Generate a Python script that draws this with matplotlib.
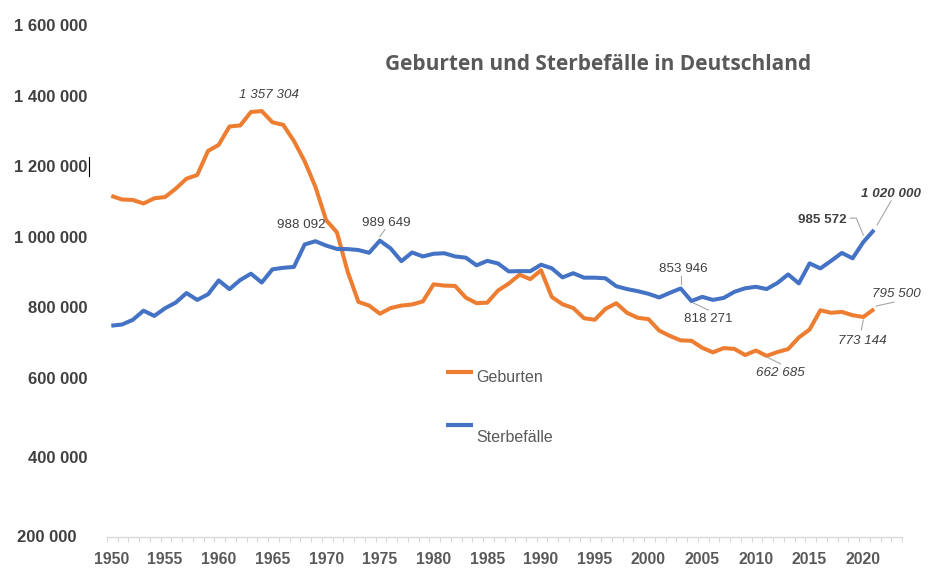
import matplotlib
matplotlib.use("Agg")
from matplotlib import pyplot as plt
from matplotlib.lines import Line2D
from matplotlib.transforms import IdentityTransform, ScaledTranslation
import numpy as np

years = list(range(1950, 2022))

geburten = [
    1116701, 1106380, 1105084, 1095029, 1109743, 1113408, 1137169, 1165555,
    1175870, 1243922, 1261614, 1313505, 1316534, 1354596, 1357304, 1325386,
    1318303, 1272276, 1214968, 1142366, 1047737, 1013396, 901657, 815969,
    805500, 782310, 798334, 805496, 808619, 817217, 865789, 862100,
    861275, 827933, 812292, 813803, 848232, 867969, 892993, 880459,
    905675, 830019, 809114, 798447, 769603, 765221, 796013, 812173,
    785034, 770744, 766999, 734475, 719250, 706721, 705622, 685795,
    672724, 684862, 682514, 665126, 677947, 662685, 673544, 682069,
    714927, 737575, 792141, 784901, 787523, 778090, 773144, 795500,
]

sterbefaelle = [
    748329, 751767, 765025, 791008, 776120, 797802, 814004, 841001,
    821524, 837328, 876721, 852051, 877957, 895911, 870858, 908216,
    912627, 915130, 978846, 988092, 975664, 966159, 965689, 963081,
    955235, 989649, 967567, 931580, 956107, 944869, 952371, 953945,
    944874, 941377, 919707, 932390, 924917, 902366, 903203, 902998,
    921445, 911245, 885443, 897270, 884661, 884588, 882843, 860389,
    852382, 846330, 838797, 828541, 841686, 853946, 818271, 830227,
    821627, 827155, 844439, 854544, 858768, 852328, 869582, 893825,
    868356, 925200, 910899, 932272, 954874, 939520, 985572, 1020000,
]

year_labels = list(range(1950, 2021, 5))
y_labels = ["1 600 000", "1 400 000", "1 200 000", "1 000 000",
            "800 000", "600 000", "400 000", "200 000"]
# where the labels sit in the original (the bottom two are not evenly spaced)
y_label_pos = [1600000, 1400000, 1200000, 1000000, 800000, 600000, 376000, 152000]

ORANGE = "#ED7D31"
BLUE = "#4472C4"
LABEL_FONT = "Liberation Sans"

fig = plt.figure(figsize=(9.36, 5.81), dpi=100)
ax = fig.add_axes([107 / 936, 44 / 581, 795 / 936, 517 / 581])

ax.plot(years, geburten, color=ORANGE, lw=2.9, solid_joinstyle="round",
        solid_capstyle="butt")
ax.plot(years, sterbefaelle, color=BLUE, lw=2.9, solid_joinstyle="round",
        solid_capstyle="butt")

ax.set_xlim(1949.6, 2023.6)
ax.set_ylim(148936, 1615600)

for s in ["top", "right", "left"]:
    ax.spines[s].set_visible(False)
ax.spines["bottom"].set_color("#D9D9D9")
ax.spines["bottom"].set_linewidth(1.0)

ax.set_xticks(year_labels)
ax.set_xticklabels([str(y) for y in year_labels], fontsize=11.3,
                   fontweight="bold", color="#595959", family="Liberation Sans")
ax.set_xticks([y - 0.4 for y in range(1950, 2025)], minor=True)
ax.tick_params(axis="x", which="major", length=0, pad=11)
ax.tick_params(axis="x", which="minor", length=3.5, width=0.8, color="#D9D9D9",
               direction="out")

ax.set_yticks(y_label_pos)
ax.set_yticklabels(y_labels, fontsize=12, fontweight="bold", color="#404040",
                   family="Liberation Sans")
ax.tick_params(axis="y", length=0, pad=14)
last = ax.get_yticklabels()[-1]
last.set_transform(last.get_transform()
                   + ScaledTranslation(-11 / 100, 0, fig.dpi_scale_trans))

# title
fig.text(598 / 936, 1 - 64 / 581, "Geburten und Sterbefälle in Deutschland",
         ha="center", va="center", fontsize=15, fontweight="bold",
         color="#595959", family=["Open Sans", "DejaVu Sans"])

# legend drawn by hand, like the original layout
def legend_entry(y_line, y_text, color, text):
    fig.add_artist(Line2D([446 / 936, 473 / 936], [1 - y_line / 581] * 2,
                          color=color, lw=3, solid_capstyle="butt",
                          transform=fig.transFigure))
    fig.text(476 / 936, 1 - y_text / 581, text, ha="left", va="center",
             fontsize=11.5, color="#595959", family="Liberation Sans")

legend_entry(372, 377, ORANGE, "Geburten")
legend_entry(425, 437, BLUE, "Sterbefälle")

# stray text cursor next to the 1 200 000 label
fig.add_artist(Line2D([88.5 / 936] * 2, [1 - 157 / 581, 1 - 176 / 581],
                      color="black", lw=0.8, transform=fig.transFigure))

# data labels: series, year, text, style, weight, label offset px, leader px
series = {"g": geburten, "s": sterbefaelle}
annotations = [
    ("g", 1964, "1 357 304", "italic", "normal", (7, 16), None),
    ("s", 1969, "988 092", "normal", "normal", (-14, 16), None),
    ("s", 1975, "989 649", "normal", "normal", (6, 18), [(5, 11), (0, 4)]),
    ("s", 2003, "853 946", "normal", "normal", (3, 19), [(0, 12), (0, 4)]),
    ("s", 2004, "818 271", "normal", "normal", (17, -18), [(2, -2), (17, -9)]),
    ("g", 2011, "662 685", "italic", "normal", (14, -17), [(0, -1), (14, -8)]),
    ("g", 2020, "773 144", "italic", "normal", (-1, -24), [(0, -3), (-2, -13)]),
    ("g", 2021, "795 500", "italic", "normal", (22, 15), [(2, 3), (20, 7)]),
    ("s", 2020, "985 572", "normal", "bold", (-41, 22),
     [(-13, 24), (-7, 24), (0, 7)]),
    ("s", 2021, "1 020 000", "italic", "bold", (17, 36), [(3, 5), (17, 29)]),
]

fig.canvas.draw()
for key, year, text, style, weight, off, leader in annotations:
    value = series[key][years.index(year)]
    px, py = ax.transData.transform((year, value))
    ax.annotate(text, xy=(year, value), xytext=off, textcoords="offset pixels",
                ha="center", va="center", fontsize=9.6, fontstyle=style,
                fontweight=weight, color="#404040", family=LABEL_FONT)
    if leader:
        xs = [px + dx for dx, dy in leader]
        ys = [py + dy for dx, dy in leader]
        fig.add_artist(Line2D(xs, ys, color="#A6A6A6", lw=0.8,
                              transform=IdentityTransform()))

fig.savefig("out.png", dpi=100)
